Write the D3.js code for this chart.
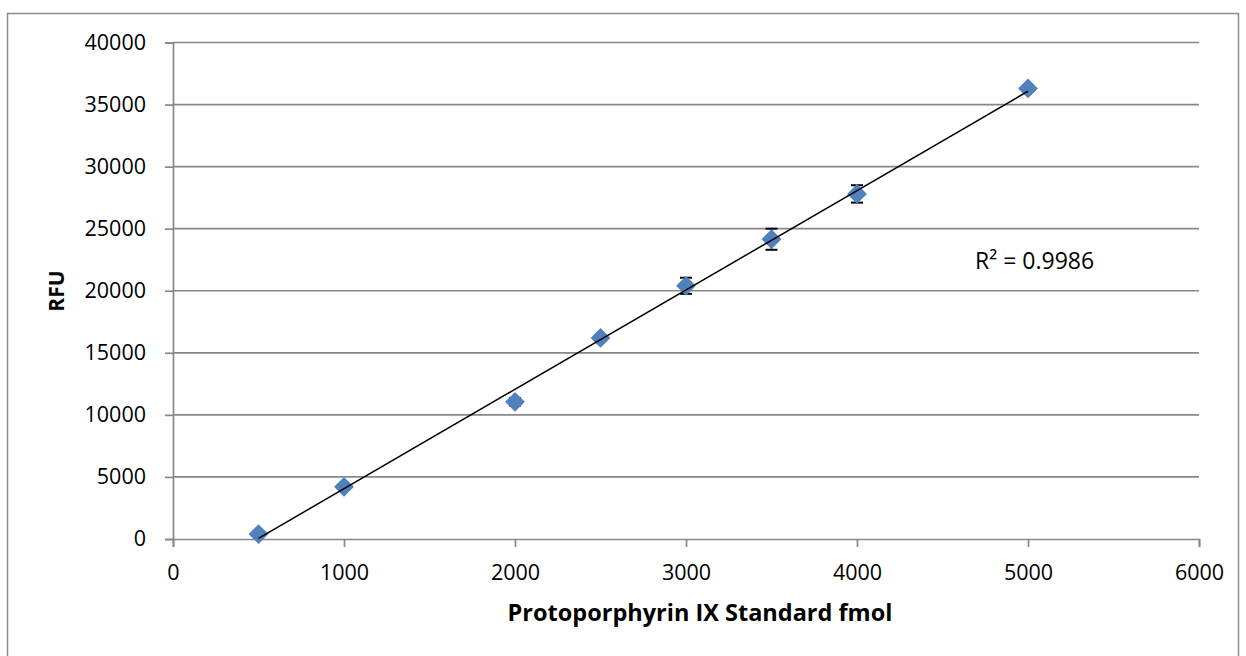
<!DOCTYPE html>
<html>
<head>
<meta charset="utf-8">
<script src="https://d3js.org/d3.v7.min.js"></script>
<style>
  body { margin: 0; background: #fff; }
  text { font-family: "Open Sans", "Liberation Sans", sans-serif; fill: #000; }
</style>
</head>
<body>
<script>
  // data
  var fmol = [500, 1000, 2000, 2500, 3000, 3500, 4000, 5000];
  var rfu = [400, 4200, 11050, 16200, 20400, 24150, 27800, 36300];
  var rfuErr = [150, 200, 300, 250, 650, 850, 700, 250];
  var xTicks = [0, 1000, 2000, 3000, 4000, 5000, 6000];
  var yTicks = [0, 5000, 10000, 15000, 20000, 25000, 30000, 35000, 40000];
  var r2Label = "R\u00B2 = 0.9986";

  var width = 1246, height = 656;
  var svg = d3.select("body").append("svg")
    .attr("width", width)
    .attr("height", height);

  // chart frame
  svg.append("rect")
    .attr("x", 7.5).attr("y", 13.5)
    .attr("width", 1231).attr("height", 660)
    .style("fill", "none")
    .style("stroke", "#8c8c8c")
    .style("stroke-width", 1.5);

  var x = d3.scaleLinear().domain([0, 6000]).range([173, 1199]);
  var y = d3.scaleLinear().domain([0, 40000]).range([539, 42.5]);

  var gridColor = "#888888";

  // horizontal gridlines
  svg.append("g")
    .selectAll("line")
    .data(yTicks.filter(function(d) { return d > 0; }))
    .enter().append("line")
    .attr("x1", x(0)).attr("x2", x(6000))
    .attr("y1", function(d) { return y(d); })
    .attr("y2", function(d) { return y(d); })
    .style("stroke", gridColor)
    .style("stroke-width", 1.7);

  // y axis
  var yAxis = svg.append("g")
    .attr("transform", "translate(" + x(0) + ",0)")
    .call(d3.axisLeft(y).tickValues(yTicks).tickSize(8).tickPadding(19).tickFormat(d3.format("d")));

  // x axis
  var xAxis = svg.append("g")
    .attr("transform", "translate(0," + y(0) + ")")
    .call(d3.axisBottom(x).tickValues(xTicks).tickSize(8).tickPadding(18).tickFormat(d3.format("d")));

  [xAxis, yAxis].forEach(function(g) {
    g.select(".domain").style("stroke", gridColor).style("stroke-width", 1.7);
    g.selectAll(".tick line").style("stroke", gridColor).style("stroke-width", 1.7);
    g.selectAll(".tick text")
      .style("font-size", "21.5px")
      .style("font-family", "'Open Sans', sans-serif")
      .attr("fill", "#000");
  });

  // error bars (behind markers)
  var bars = svg.append("g").selectAll("g")
    .data(fmol)
    .enter().append("g");
  bars.append("line")
    .attr("x1", function(d) { return x(d); })
    .attr("x2", function(d) { return x(d); })
    .attr("y1", function(d, i) { return y(rfu[i] - rfuErr[i]); })
    .attr("y2", function(d, i) { return y(rfu[i] + rfuErr[i]); })
    .style("stroke", "#000").style("stroke-width", 1.5);
  [-1, 1].forEach(function(s) {
    bars.append("line")
      .attr("x1", function(d) { return x(d) - 6; })
      .attr("x2", function(d) { return x(d) + 6; })
      .attr("y1", function(d, i) { return y(rfu[i] + s * rfuErr[i]); })
      .attr("y2", function(d, i) { return y(rfu[i] + s * rfuErr[i]); })
      .style("stroke", "#000").style("stroke-width", 2);
  });

  // diamond markers
  var diamond = d3.symbol().type(d3.symbolDiamond2).size(250);
  svg.append("g").selectAll("path")
    .data(fmol)
    .enter().append("path")
    .attr("d", diamond)
    .attr("transform", function(d, i) { return "translate(" + x(d) + "," + y(rfu[i]) + ")"; })
    .style("fill", "#4f81bd");

  // linear trendline (least squares over the data)
  var mx = d3.mean(fmol), my = d3.mean(rfu);
  var sxy = d3.sum(fmol, function(d, i) { return (d - mx) * (rfu[i] - my); });
  var sxx = d3.sum(fmol, function(d) { return (d - mx) * (d - mx); });
  var slope = sxy / sxx, intercept = my - slope * mx;
  var xMin = d3.min(fmol), xMax = d3.max(fmol);
  svg.append("line")
    .attr("x1", x(xMin)).attr("y1", y(slope * xMin + intercept))
    .attr("x2", x(xMax)).attr("y2", y(slope * xMax + intercept))
    .style("stroke", "#000")
    .style("stroke-width", 1.5);

  // R squared label
  svg.append("text")
    .attr("x", 975).attr("y", 269)
    .style("font-size", "23px")
    .text(r2Label);

  // axis titles
  svg.append("text")
    .attr("x", 700).attr("y", 621)
    .attr("text-anchor", "middle")
    .style("font-size", "23.5px")
    .style("font-weight", "bold")
    .text("Protoporphyrin IX Standard fmol");

  svg.append("text")
    .attr("transform", "translate(64,291) rotate(-90)")
    .attr("text-anchor", "middle")
    .style("font-size", "21px")
    .style("font-weight", "bold")
    .text("RFU");
</script>
</body>
</html>
